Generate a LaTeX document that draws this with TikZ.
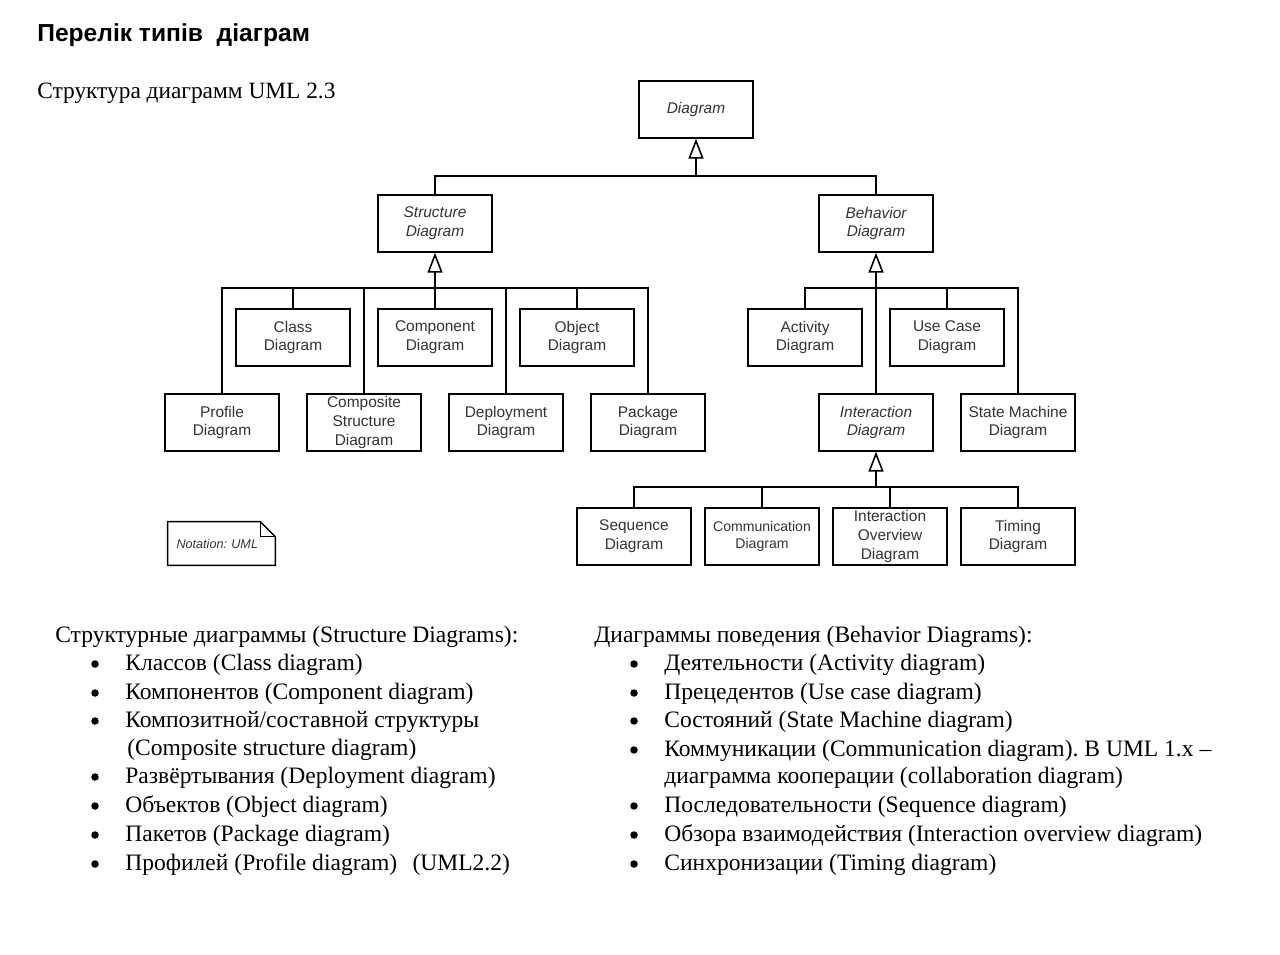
\documentclass[tikz,border=0pt]{standalone}
\usepackage{fontspec}
\setmainfont{Liberation Serif}
\newfontfamily\diagfont{Liberation Sans}
\usetikzlibrary{arrows.meta}
\frenchspacing

\begin{document}
\begin{tikzpicture}[
        x=0.02cm, y=-0.02cm,
        box/.style={draw, line width=0.8pt, minimum width=2.28cm, minimum height=1.14cm, inner sep=1pt, align=center, text=black!80, font=\diagfont\fontsize{8.8}{10.6}\selectfont},
        abstract/.style={box, font=\diagfont\itshape\fontsize{8.8}{10.6}\selectfont},
        link/.style={draw, line width=0.8pt},
        gen/.style={link, -{Triangle[open, length=0.4cm, width=0.3cm, line width=0.9pt]}},
        item/.style={anchor=base west, inner sep=0pt, font=\fontsize{13.4}{16}\selectfont},
        dot/.style={circle, fill, inner sep=0pt, minimum size=0.15cm}
        ]

        \useasboundingbox (0,0) rectangle (1280,955);

        % headings
        \node[anchor=base west, inner sep=0pt, font=\diagfont\bfseries\fontsize{14}{16}\selectfont] (title) at (37,42) {Перелік типів\ \ діаграм};
        \node[item, font=\fontsize{13.3}{16}\selectfont] (subtitle) at (37,99) {Структура диаграмм UML 2.3};

        % class tree
        \node[abstract] (diagram) at (696,109.5) {Diagram};
        \node[abstract] (structure) at (435,223.5) {Structure\\Diagram};
        \node[abstract] (behavior) at (876,223.5) {Behavior\\Diagram};

        \node[box] (class) at (293,337.5) {Class\\Diagram};
        \node[box] (component) at (435,337.5) {Component\\Diagram};
        \node[box] (object) at (577,337.5) {Object\\Diagram};
        \node[box] (profile) at (222,422.5) {Profile\\Diagram};
        \node[box] (composite) at (364,422.5) {Composite\\Structure\\Diagram};
        \node[box] (deployment) at (506,422.5) {Deployment\\Diagram};
        \node[box] (package) at (648,422.5) {Package\\Diagram};

        \node[box] (activity) at (805,337.5) {Activity\\Diagram};
        \node[box] (usecase) at (947,337.5) {Use Case\\Diagram};
        \node[abstract] (interaction) at (876,422.5) {Interaction\\Diagram};
        \node[box] (statemachine) at (1018,422.5) {State Machine\\Diagram};

        \node[box] (sequence) at (634,536.5) {Sequence\\Diagram};
        \node[box, font=\diagfont\fontsize{8}{10}\selectfont] (communication) at (762,536.5) {Communication\\Diagram};
        \node[box] (overview) at (890,536.5) {Interaction\\Overview\\Diagram};
        \node[box] (timing) at (1018,536.5) {Timing\\Diagram};

        \coordinate (topbus) at (696,176);
        \coordinate (sbus) at (435,288);
        \coordinate (bbus) at (876,288);
        \coordinate (ibus) at (876,487);

        \draw[link] (structure.north) |- (topbus) -| (behavior.north);
        \draw[gen] (topbus) -- (diagram.south);

        \draw[link] (profile.north) |- (sbus) -| (package.north);
        \foreach \n in {class,composite,component,deployment,object}
            \draw[link] (\n.north) -- (\n.north |- sbus);
        \draw[gen] (sbus) -- (structure.south);

        \draw[link] (activity.north) |- (bbus) -| (statemachine.north);
        \draw[link] (usecase.north) -- (usecase.north |- bbus);
        \draw[gen] (interaction.north) -- (behavior.south);

        \draw[link] (sequence.north) |- (ibus) -| (timing.north);
        \foreach \n in {communication,overview}
            \draw[link] (\n.north) -- (\n.north |- ibus);
        \draw[gen] (ibus) -- (interaction.south);

        % note
        \node[minimum width=2.14cm, minimum height=0.86cm, inner sep=0pt, text width=1.8cm, align=left, text=black!80, font=\diagfont\itshape\fontsize{7.2}{8}\selectfont] (note) at (221.5,543.5) {Notation: UML};
        \draw[link] (note.north west) -- ([xshift=-0.3cm]note.north east) -- ([yshift=-0.3cm]note.north east) -- (note.south east) -- (note.south west) -- cycle;
        \draw[link] ([xshift=-0.3cm]note.north east) |- ([yshift=-0.3cm]note.north east);

        % left list
        \node[item] (lhead) at (55,642) {Структурные диаграммы (Structure Diagrams):};
        \foreach \y/\t [count=\i] in {670/Классов (Class diagram), 699/Компонентов (Component diagram), 727/{Композитной/составной структуры}, 783/Развёртывания (Deployment diagram), 812/Объектов (Object diagram), 841/Пакетов (Package diagram), 870/Профилей (Profile diagram)\hspace{0.65em}(UML2.2)} {
            \node[dot] (lb\i) at (95,\y-6) {};
            \node[item] (lt\i) at (125,\y) {\t};
        }
        \node[item] (lcont) at (127,755) {(Composite structure diagram)};

        % right list
        \node[item] (rhead) at (594,642) {Диаграммы поведения (Behavior Diagrams):};
        \foreach \y/\t [count=\i] in {670/Деятельности (Activity diagram), 699/Прецедентов (Use case diagram), 727/Состояний (State Machine diagram), 756/Коммуникации (Communication diagram). В UML 1.x –, 812/Последовательности (Sequence diagram), 841/Обзора взаимодействия (Interaction overview diagram), 870/Синхронизации (Timing diagram)} {
            \node[dot] (rb\i) at (634,\y-6) {};
            \node[item] (rt\i) at (664,\y) {\t};
        }
        \node[item] (rcont) at (664,783) {диаграмма кооперации (collaboration diagram)};
\end{tikzpicture}
\end{document}
